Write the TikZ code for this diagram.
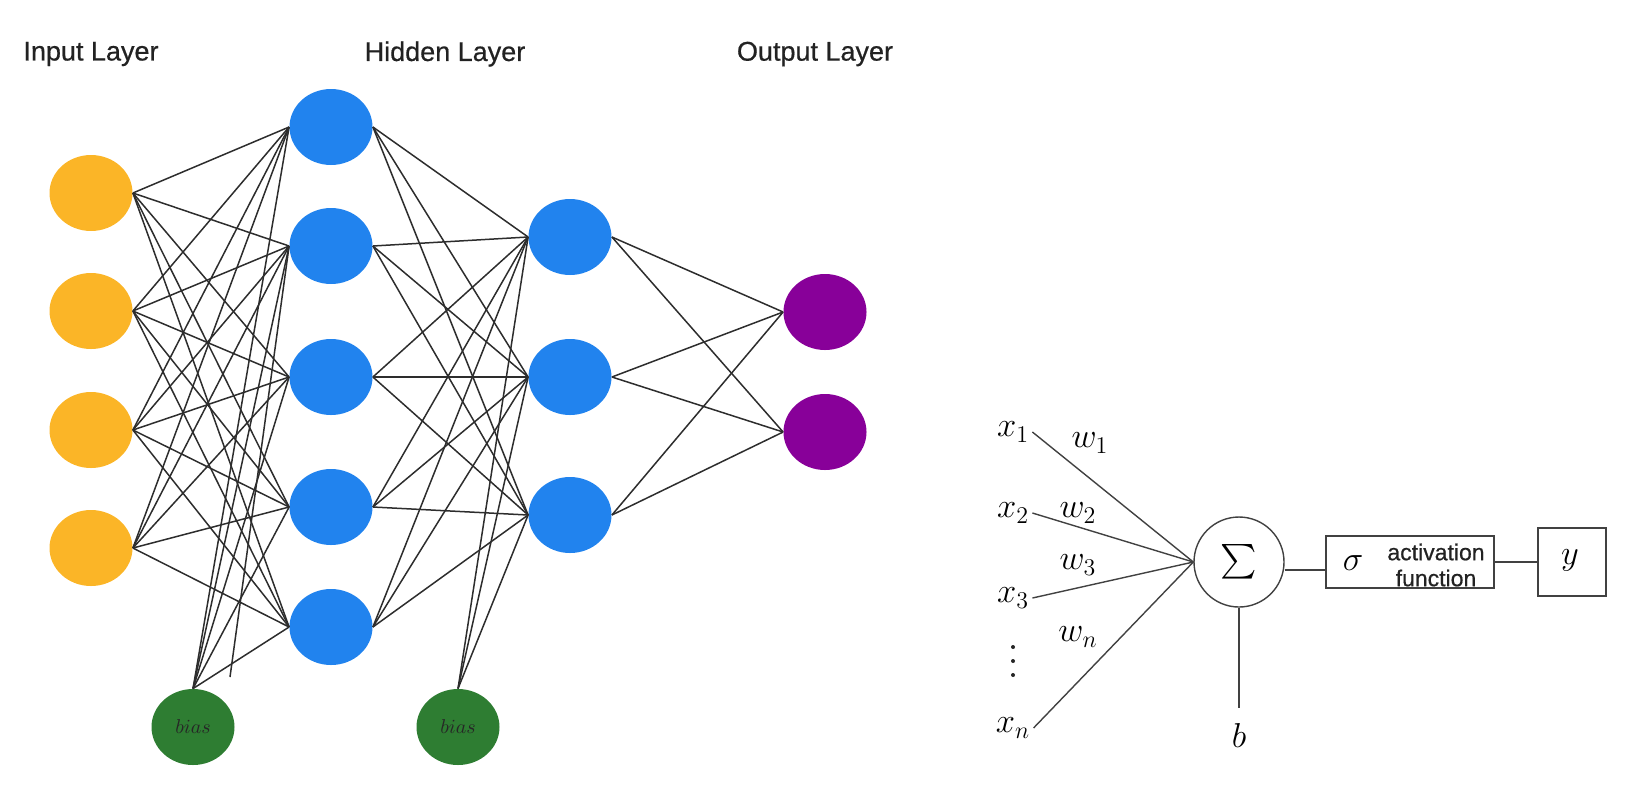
\documentclass[tikz,border=0pt]{standalone}
\usepackage{exscale}
\usepackage{fontspec}
\setsansfont{Liberation Sans}
\newfontfamily\medsans{Liberation Sans}[FakeBold=0.6]
\usetikzlibrary{shapes.geometric}
\definecolor{inorange}{RGB}{251,181,39}
\definecolor{hidblue}{RGB}{33,131,238}
\definecolor{outpurple}{RGB}{136,0,153}
\definecolor{biasgreen}{RGB}{46,125,50}
\definecolor{edgegray}{RGB}{45,45,45}
\definecolor{pgray}{RGB}{65,65,65}
\definecolor{titlegray}{RGB}{34,34,34}
\begin{document}
\begin{tikzpicture}[x=0.5pt,y=-0.5pt,
  neuron/.style={ellipse, inner sep=0pt, minimum width=41.5pt, minimum height=38pt, draw=none},
  innode/.style={neuron, fill=inorange},
  hidnode/.style={neuron, fill=hidblue},
  outnode/.style={neuron, fill=outpurple},
  biasnode/.style={neuron, fill=biasgreen, font=\fontsize{10}{12}\selectfont, text=black!85},
  edge/.style={draw=edgegray, line width=0.75pt},
  pedge/.style={draw=pgray, line width=0.7pt},
  title/.style={font=\medsans\fontsize{13.5}{16}\selectfont, text=titlegray},
  mlabel/.style={font=\fontsize{16.5}{19}\selectfont, inner sep=1.5pt, text=black},
  pbox/.style={draw=pgray, line width=0.7pt, inner sep=0pt},
  pdot/.style={fill=black!85}
]
\useasboundingbox (0,0) rectangle (1636,794);

% titles
\node[title] (tin) at (91,54) {Input Layer};
\node[title] (thid) at (445,54) {Hidden Layer};
\node[title] (tout) at (815,54) {Output Layer};

% input layer
\node[innode] (i1) at (91,193) {};
\node[innode] (i2) at (91,311) {};
\node[innode] (i3) at (91,430) {};
\node[innode] (i4) at (91,548) {};

% hidden layer 1
\node[hidnode] (h1) at (331,127) {};
\node[hidnode] (h2) at (331,246) {};
\node[hidnode] (h3) at (331,377) {};
\node[hidnode] (h4) at (331,507) {};
\node[hidnode] (h5) at (331,627) {};

% hidden layer 2
\node[hidnode] (g1) at (570,237) {};
\node[hidnode] (g2) at (570,377) {};
\node[hidnode] (g3) at (570,515) {};

% output layer
\node[outnode] (o1) at (825,312) {};
\node[outnode] (o2) at (825,432) {};

% bias nodes
\node[biasnode] (b1) at (193,727) {$bias$};
\node[biasnode] (b2) at (458,727) {$bias$};

% edges
\foreach \i in {1,...,4}
  \foreach \h in {1,...,5}
    \draw[edge] (i\i.east) -- (h\h.west);
\foreach \h in {1,...,5}
  \foreach \g in {1,2,3}
    \draw[edge] (h\h.east) -- (g\g.west);
\foreach \g in {1,2,3}
  \foreach \o in {1,2}
    \draw[edge] (g\g.east) -- (o\o.west);
\foreach \h in {1,...,5}
  \draw[edge] (b1.north) -- (h\h.west);
\foreach \g in {1,2,3}
  \draw[edge] (b2.north) -- (g\g.west);
\coordinate (stray) at (230,677);
\draw[edge] (stray) -- (h2.west);

% perceptron
\node[mlabel] (x1) at (1013,432) {$x_1$};
\node[mlabel] (x2) at (1013,513) {$x_2$};
\node[mlabel] (x3) at (1013,598) {$x_3$};
\node[mlabel] (xn) at (1013,728) {$x_n$};
\fill[pdot] (1013,647) circle (2);
\fill[pdot] (1013,661) circle (2);
\fill[pdot] (1013,675) circle (2);
\node[mlabel] (w1) at (1090,443) {$w_1$};
\node[mlabel] (w2) at (1078,513) {$w_2$};
\node[mlabel] (w3) at (1078,565) {$w_3$};
\node[mlabel] (wn) at (1078,637) {$w_n$};

\node[pbox, circle, minimum size=45pt] (sum) at (1239,562) {\fontsize{16.5}{20}\selectfont$\sum$};
\node[pbox, minimum width=84pt, minimum height=26pt] (act) at (1410,562) {};
\node[mlabel] (sig) at (1353,563) {$\sigma$};
\node[font=\medsans\fontsize{11.5}{13}\selectfont, align=center, text=titlegray, inner sep=0pt] (actt) at (1436,565) {activation\\function};
\node[pbox, minimum width=34pt, minimum height=34pt] (yb) at (1572,562) {};
\node[mlabel] (y) at (1570,560) {$y$};
\node[mlabel] (b) at (1239,735) {$b$};

\foreach \x in {x1,x2,x3,xn}
  \draw[pedge] (\x.east) -- (sum.west);
\draw[pedge] ([yshift=-4pt]sum.east) -- ([yshift=-4pt]act.west);
\draw[pedge] (act.east) -- (yb.west);
\draw[pedge] (sum.south) -- ([yshift=6pt]b.north);
\end{tikzpicture}
\end{document}
